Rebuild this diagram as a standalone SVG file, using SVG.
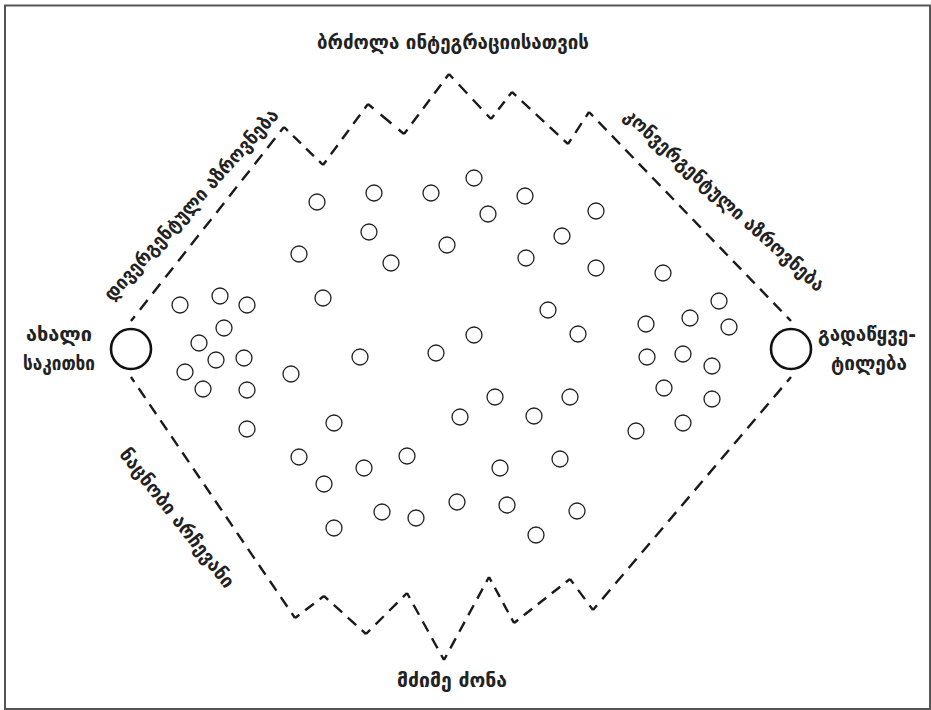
<svg xmlns="http://www.w3.org/2000/svg" width="931" height="710" viewBox="0 0 931 710">
<style>
.frame{fill:#fff;stroke:#555;stroke-width:2}
.dash{fill:none;stroke:#1a1a1a;stroke-width:2.4;stroke-dasharray:12 8;stroke-dashoffset:6;stroke-linecap:butt}
.idea{fill:#fff;stroke:#222;stroke-width:1.3}
.big{fill:#fff;stroke:#111;stroke-width:2.6}
.lbl{font-family:"DejaVu Sans",sans-serif;font-size:19px;font-weight:bold;fill:#222}
</style>
<rect class="frame" x="5" y="5.5" width="925" height="703.5"/>
<g id="connectors">
<path class="dash" d="M131,321 L284,127" pathLength="240"/>
<path class="dash" d="M284,127 L323,165" pathLength="60"/>
<path class="dash" d="M323,165 L368,104" pathLength="80"/>
<path class="dash" d="M368,104 L404,134" pathLength="40"/>
<path class="dash" d="M404,134 L449,74" pathLength="80"/>
<path class="dash" d="M449,74 L491,119" pathLength="60"/>
<path class="dash" d="M491,119 L512,92" pathLength="40"/>
<path class="dash" d="M512,92 L568,144" pathLength="80"/>
<path class="dash" d="M568,144 L589,112" pathLength="40"/>
<path class="dash" d="M589,112 L791,321" pathLength="300"/>
<path class="dash" d="M131,377 L295,618" pathLength="300"/>
<path class="dash" d="M295,618 L324,596" pathLength="40"/>
<path class="dash" d="M324,596 L366,634" pathLength="60"/>
<path class="dash" d="M366,634 L407,593" pathLength="60"/>
<path class="dash" d="M407,593 L444,660" pathLength="80"/>
<path class="dash" d="M444,660 L489,577" pathLength="100"/>
<path class="dash" d="M489,577 L514,623" pathLength="60"/>
<path class="dash" d="M514,623 L570,579" pathLength="80"/>
<path class="dash" d="M570,579 L593,610" pathLength="40"/>
<path class="dash" d="M593,610 L791,377" pathLength="300"/>
</g>
<g id="new-issue">
<circle class="big" cx="131" cy="349" r="20"/>
<text class="lbl" x="59" y="341" text-anchor="middle" textLength="66" lengthAdjust="spacingAndGlyphs">ახალი</text>
<text class="lbl" x="59" y="370" text-anchor="middle" textLength="72" lengthAdjust="spacingAndGlyphs">საკითხი</text>
</g>
<g id="decision">
<circle class="big" cx="791" cy="349" r="20"/>
<text class="lbl" x="867" y="341" text-anchor="middle" textLength="98" lengthAdjust="spacingAndGlyphs">გადაწყვე-</text>
<text class="lbl" x="869" y="370" text-anchor="middle" textLength="76" lengthAdjust="spacingAndGlyphs">ტილება</text>
</g>
<g id="label-top"><text class="lbl" x="453" y="49" text-anchor="middle" textLength="272" lengthAdjust="spacingAndGlyphs">ბრძოლა ინტეგრაციისათვის</text></g>
<g id="label-bottom"><text class="lbl" x="452" y="687" text-anchor="middle" textLength="110" lengthAdjust="spacingAndGlyphs">მძიმე ძონა</text></g>
<g id="label-divergent"><text class="lbl" text-anchor="middle" transform="translate(196,209) rotate(-48)" textLength="250" lengthAdjust="spacingAndGlyphs">დივერგენტული აზროვნება</text></g>
<g id="label-convergent"><text class="lbl" text-anchor="middle" transform="translate(720,205) rotate(42)" textLength="262" lengthAdjust="spacingAndGlyphs">კონვერგენტული აზროვნება</text></g>
<g id="label-familiar"><text class="lbl" text-anchor="middle" transform="translate(172,522) rotate(51.6)" textLength="172" lengthAdjust="spacingAndGlyphs">ნაცნობი არჩევანი</text></g>
<g id="ideas">
<circle class="idea" cx="317" cy="202" r="8"/>
<circle class="idea" cx="374" cy="193" r="8"/>
<circle class="idea" cx="431" cy="193" r="8"/>
<circle class="idea" cx="474" cy="178" r="8"/>
<circle class="idea" cx="525" cy="196" r="8"/>
<circle class="idea" cx="488" cy="214" r="8"/>
<circle class="idea" cx="596" cy="211" r="8"/>
<circle class="idea" cx="369" cy="232" r="8"/>
<circle class="idea" cx="447" cy="245" r="8"/>
<circle class="idea" cx="299" cy="254" r="8"/>
<circle class="idea" cx="391" cy="263" r="8"/>
<circle class="idea" cx="526" cy="258" r="8"/>
<circle class="idea" cx="562" cy="236" r="8"/>
<circle class="idea" cx="596" cy="268" r="8"/>
<circle class="idea" cx="323" cy="298" r="8"/>
<circle class="idea" cx="548" cy="310" r="8"/>
<circle class="idea" cx="578" cy="334" r="8"/>
<circle class="idea" cx="474" cy="335" r="8"/>
<circle class="idea" cx="360" cy="357" r="8"/>
<circle class="idea" cx="436" cy="353" r="8"/>
<circle class="idea" cx="291" cy="374" r="8"/>
<circle class="idea" cx="180" cy="305" r="8"/>
<circle class="idea" cx="220" cy="296" r="8"/>
<circle class="idea" cx="247" cy="305" r="8"/>
<circle class="idea" cx="224" cy="328" r="8"/>
<circle class="idea" cx="199" cy="343" r="8"/>
<circle class="idea" cx="216" cy="360" r="8"/>
<circle class="idea" cx="244" cy="358" r="8"/>
<circle class="idea" cx="185" cy="372" r="8"/>
<circle class="idea" cx="203" cy="389" r="8"/>
<circle class="idea" cx="247" cy="390" r="8"/>
<circle class="idea" cx="247" cy="429" r="8"/>
<circle class="idea" cx="334" cy="423" r="8"/>
<circle class="idea" cx="460" cy="417" r="8"/>
<circle class="idea" cx="495" cy="397" r="8"/>
<circle class="idea" cx="534" cy="416" r="8"/>
<circle class="idea" cx="570" cy="397" r="8"/>
<circle class="idea" cx="299" cy="457" r="8"/>
<circle class="idea" cx="364" cy="468" r="8"/>
<circle class="idea" cx="407" cy="456" r="8"/>
<circle class="idea" cx="324" cy="484" r="8"/>
<circle class="idea" cx="500" cy="468" r="8"/>
<circle class="idea" cx="560" cy="459" r="8"/>
<circle class="idea" cx="334" cy="528" r="8"/>
<circle class="idea" cx="382" cy="512" r="8"/>
<circle class="idea" cx="416" cy="518" r="8"/>
<circle class="idea" cx="457" cy="502" r="8"/>
<circle class="idea" cx="507" cy="505" r="8"/>
<circle class="idea" cx="577" cy="511" r="8"/>
<circle class="idea" cx="536" cy="535" r="8"/>
<circle class="idea" cx="663" cy="273" r="8"/>
<circle class="idea" cx="719" cy="301" r="8"/>
<circle class="idea" cx="690" cy="318" r="8"/>
<circle class="idea" cx="729" cy="327" r="8"/>
<circle class="idea" cx="646" cy="324" r="8"/>
<circle class="idea" cx="647" cy="357" r="8"/>
<circle class="idea" cx="683" cy="354" r="8"/>
<circle class="idea" cx="712" cy="366" r="8"/>
<circle class="idea" cx="664" cy="388" r="8"/>
<circle class="idea" cx="712" cy="399" r="8"/>
<circle class="idea" cx="683" cy="423" r="8"/>
<circle class="idea" cx="636" cy="431" r="8"/>
</g>
</svg>
